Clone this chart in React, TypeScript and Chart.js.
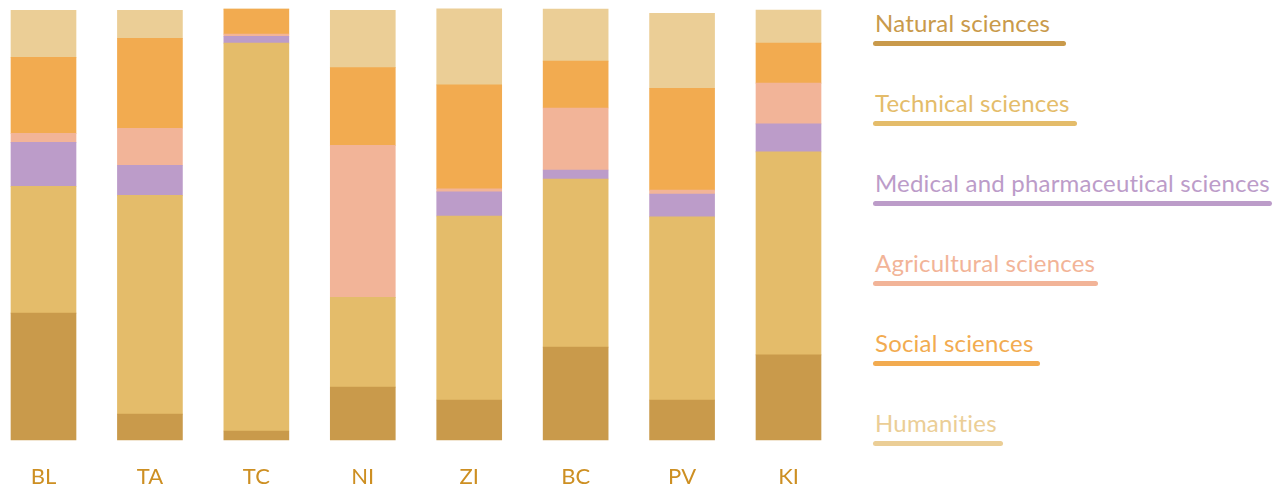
import React, { useEffect, useRef } from "react";
import { Chart, registerables } from "chart.js";

Chart.register(...registerables);

const categories = ["BL", "TA", "TC", "NI", "ZI", "BC", "PV", "KI"];
const seriesNames = [
  "Natural sciences",
  "Technical sciences",
  "Medical and pharmaceutical sciences",
  "Agricultural sciences",
  "Social sciences",
  "Humanities",
];
const natural = [29.5, 6.0, 2.1, 12.3, 9.3, 21.6, 9.3, 19.8];
const technical = [29.5, 50.9, 90.2, 20.9, 42.8, 39.1, 42.6, 47.2];
const medical = [10.2, 7.0, 1.6, 0, 5.6, 2.1, 5.3, 6.5];
const agricultural = [2.1, 8.6, 0.5, 35.3, 0.7, 14.4, 0.9, 9.5];
const social = [17.7, 20.9, 5.8, 18.1, 24.2, 10.9, 23.7, 9.3];
const humanities = [10.9, 6.5, 0, 13.3, 17.7, 12.1, 17.4, 7.7];

const seriesValues = [natural, technical, medical, agricultural, social, humanities];
const colors = ["#c99a4b", "#e4bc6a", "#bc9cc9", "#f2b498", "#f2ab50", "#ebce96"];
const underlineWidths = [193, 204, 399, 225, 167, 130];
const tickColor = "#cd8f22";
const FONT = "Lato, 'Open Sans', sans-serif";

export default function App() {
  const canvasRef = useRef<HTMLCanvasElement | null>(null);

  useEffect(() => {
    if (!canvasRef.current) return;
    const chart = new Chart(canvasRef.current, {
      type: "bar",
      data: {
        labels: categories,
        datasets: seriesNames.map((name, i) => ({
          label: name,
          data: seriesValues[i],
          backgroundColor: colors[i],
          borderWidth: 0,
          barThickness: 65,
          clip: false as any,
        })),
      },
      options: {
        animation: false,
        responsive: false,
        maintainAspectRatio: false,
        layout: { padding: { top: 10, left: 43.5, right: 860 - 788.5, bottom: 0 } },
        plugins: { legend: { display: false }, tooltip: { enabled: false } },
        scales: {
          x: {
            stacked: true,
            offset: false,
            grid: { display: false, drawTicks: false },
            border: { display: false },
            ticks: { color: tickColor, font: { family: FONT, size: 22 }, padding: 24 },
            afterFit: (scale: any) => {
              scale.height = 47;
            },
          },
          y: {
            stacked: true,
            display: false,
            min: 0,
            max: 100,
          },
        },
      },
    });
    return () => chart.destroy();
  }, []);

  return (
    <div style={{ position: "absolute", left: 0, top: 0, width: 1283, height: 487, overflow: "hidden", background: "#fff" }}>
      <canvas ref={canvasRef} width={860} height={487} style={{ position: "absolute", left: 0, top: 0 }} />
      {seriesNames.map((name, i) => (
        <React.Fragment key={name}>
          <div
            style={{
              position: "absolute",
              left: 875,
              top: 10.7 + i * 80,
              fontFamily: FONT,
              fontSize: 24,
              lineHeight: "24px",
              letterSpacing: "0.2px",
              color: colors[i],
              whiteSpace: "nowrap",
            }}
          >
            {name}
          </div>
          <div
            style={{
              position: "absolute",
              left: 873,
              top: 41 + i * 80,
              width: underlineWidths[i],
              height: 5,
              borderRadius: 3,
              background: colors[i],
            }}
          />
        </React.Fragment>
      ))}
    </div>
  );
}
